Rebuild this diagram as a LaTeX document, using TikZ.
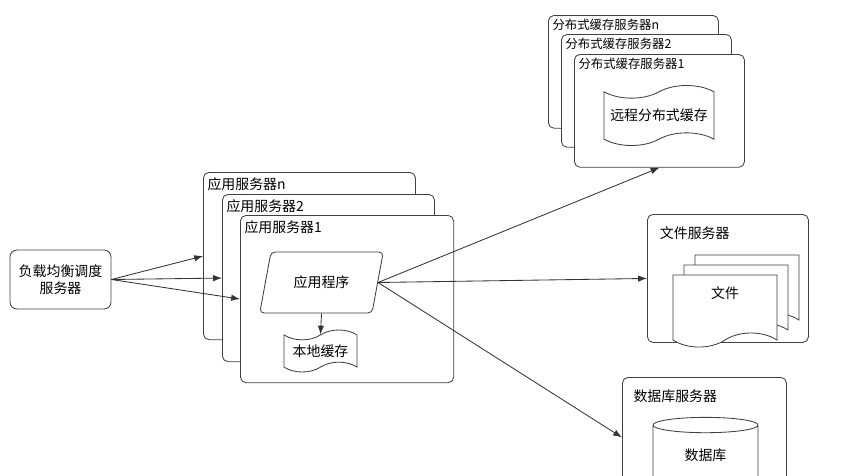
\documentclass[tikz,border=0pt]{standalone}
\usepackage{fontspec}
\newfontfamily\cjk{Noto Sans CJK SC}
\usetikzlibrary{arrows.meta,positioning,shapes.geometric,shapes.symbols}

\tikzset{
  srvbox/.style={draw=black!75, line width=0.6pt, rounded corners=4pt, fill=white,
    anchor=north west, inner sep=0pt},
  appbox/.style={srvbox, minimum width=5.3cm, minimum height=4.18cm},
  dcbox/.style={srvbox, minimum width=4.25cm, minimum height=2.82cm},
  boxtitle/.style={inner sep=0pt, anchor=north west},
  dctitle/.style={boxtitle, font=\cjk\fontsize{8.8}{10}\selectfont},
  docshape/.style={draw=black!75, line width=0.6pt, fill=white, tape, tape bend top=none,
    tape bend bottom=in and out, tape bend height=10pt, minimum width=2.6cm, minimum height=1.8cm},
  conn/.style={->, draw=black!80, line width=0.6pt}
}

\begin{document}
\begin{tikzpicture}[x=0.025cm, y=-0.025cm, font=\cjk\fontsize{9.9}{12}\selectfont,
    >={Latex[length=2.2mm,width=1.6mm]}]
  \useasboundingbox (0,0) rectangle (841,475);

  % load balancer
  \node[draw=black!75, line width=0.6pt, rounded corners=5pt, minimum width=2.525cm,
    minimum height=1.475cm, align=center] (lb) at (60.5,279.5) {负载均衡调度\\服务器};

  % application servers
  \node[appbox] (appn) at (203,172) {};
  \node[boxtitle, below right=4pt and 3pt of appn.north west] (appntitle) {应用服务器n};
  \node[appbox] (apptwo) at (222,194) {};
  \node[boxtitle, below right=4pt and 3pt of apptwo.north west] (apptwotitle) {应用服务器2};
  \node[appbox, minimum width=5.33cm] (appone) at (240,215) {};
  \node[boxtitle, below right=4pt and 3pt of appone.north west] (apponetitle) {应用服务器1};

  \node[draw=black!75, line width=0.6pt, trapezium, trapezium left angle=72,
    trapezium right angle=108, trapezium stretches=true, rounded corners=3pt,
    minimum width=3.1cm, minimum height=1.525cm] (prog) at (321.5,282.5) {应用程序};
  \node[draw=black!75, line width=0.6pt, tape, tape bend height=7pt,
    minimum width=1.825cm, minimum height=1.05cm] (local) at (320.5,351) {本地缓存};

  % distributed cache servers
  \node[dcbox] (dcn) at (548,15) {};
  \node[dctitle, below right=3pt and 3pt of dcn.north west] (dcntitle) {分布式缓存服务器n};
  \node[dcbox] (dctwo) at (561,34) {};
  \node[dctitle, below right=3pt and 3pt of dctwo.north west] (dctwotitle) {分布式缓存服务器2};
  \node[dcbox] (dcone) at (574,54) {};
  \node[dctitle, below right=3pt and 3pt of dcone.north west] (dconetitle) {分布式缓存服务器1};
  \node[draw=black!75, line width=0.6pt, tape, tape bend height=9pt,
    minimum width=2.75cm, minimum height=1.5cm] (remote) at (659,115.5) {远程分布式缓存};

  % file server
  \node[srvbox, minimum width=4.025cm, minimum height=3.2cm] (filesrv) at (647,214) {};
  \node[boxtitle, below right=9pt and 9pt of filesrv.north west] (filetitle) {文件服务器};
  \node[docshape] (docback) at (747,284) {};
  \node[docshape] (docmid) at (736,294) {};
  \node[docshape, text depth=0.55cm] (docfront) at (725,304) {文件};

  % database server
  \node[srvbox, minimum width=4.1cm, minimum height=3cm] (dbsrv) at (622,377) {};
  \node[boxtitle, below right=9pt and 8pt of dbsrv.north west] (dbtitle) {数据库服务器};
  \node[draw=black!75, line width=0.6pt, fill=white, cylinder, shape border rotate=90,
    aspect=0.3, minimum width=2.625cm, minimum height=2.3cm, text depth=0.7cm] (db) at (705.5,469) {数据库};

  % connectors
  \draw[conn] (lb.east) -- (appn.west);
  \draw[conn] (lb.east) -- (apptwo.west);
  \draw[conn] (lb.east) -- (appone.west);
  \draw[conn] (prog.south) -- (local.north);
  \draw[conn] (prog.east) -- (dcone.south);
  \draw[conn] (prog.east) -- (filesrv.west);
  \draw[conn] (prog.east) -- (dbsrv.west);
\end{tikzpicture}
\end{document}
